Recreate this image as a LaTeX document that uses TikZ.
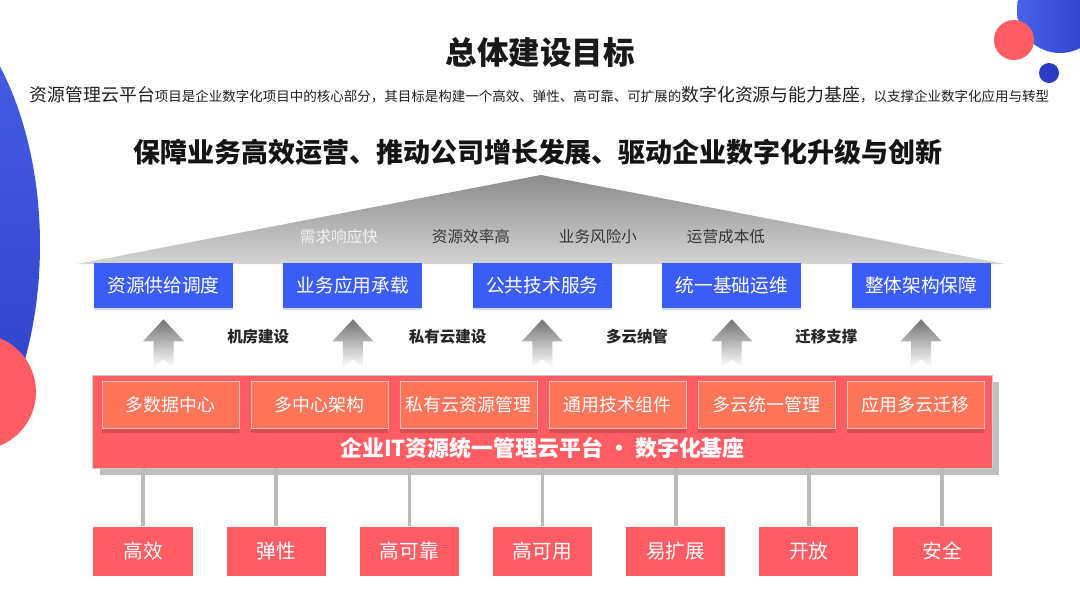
\documentclass[tikz,border=0pt]{standalone}
\usepackage{fontspec}
\setmainfont{Noto Sans CJK SC}
\usetikzlibrary{positioning,calc,shadows}

\definecolor{goalblue}{RGB}{58,94,245}
\definecolor{basered}{RGB}{255,92,100}
\definecolor{modorange}{RGB}{255,117,90}
\definecolor{decoblue}{RGB}{72,98,232}
\definecolor{decodeep}{RGB}{42,60,196}
\newcommand{\setfs}[1]{\fontsize{#1}{#1}\selectfont}

\begin{document}
\begin{tikzpicture}[x=0.025cm, y=-0.025cm,
  goalbox/.style={fill=goalblue, text=white, minimum width=3.475cm, minimum height=1.125cm,
    inner sep=0pt, font=\setfs{13.3},
    drop shadow={shadow xshift=0pt, shadow yshift=-1.5pt, fill=goalblue!22, opacity=1}},
  modbox/.style={fill=modorange, draw=modorange!45!white, line width=0.6pt, text=white,
    minimum width=3.425cm, minimum height=1.175cm, inner sep=0pt, font=\setfs{12.7},
    drop shadow={shadow xshift=0pt, shadow yshift=-3.5pt, fill=black, opacity=0.16}},
  qualbox/.style={fill=basered, text=white, minimum width=2.475cm, minimum height=1.225cm,
    inner sep=0pt, font=\setfs{14}},
  arrowlbl/.style={font=\bfseries\setfs{11}, text=black!85},
  rooflbl/.style={font=\setfs{11.1}, text=black!78},
  link/.style={draw=black!27, line width=2.6pt},
  uparrow/.style={top color=black!55, bottom color=white, draw=none}]
\path[use as bounding box] (0,0) rectangle (1080,608);
\begin{scope}
\clip (0,0) rectangle (1080,608);
\shade[top color=decoblue, bottom color=decodeep] (-120,245) ellipse [x radius=160, y radius=270];
\fill[basered] (-22,392) circle [radius=58];
\shade[left color=decoblue, right color=decodeep] (1060,10) circle [radius=43];
\fill[basered] (1014,40) circle [radius=20];
\fill[decodeep] (1049,73) circle [radius=10];
\end{scope}

\node[font=\bfseries\setfs{22.4}, text=black!90] (title) at (540,52) {总体建设目标};
\node[text=black!88, inner sep=0pt] (intro) at (539.5,95)
  {{\setfs{12.7}资源管理云平台}{\setfs{9.6}项目是企业数字化项目中的核心部分，其目标是构建一个高效、弹性、高可靠、可扩展的}{\setfs{12.7}数字化资源与能力基座}{\setfs{9.6}，以支撑企业数字化应用与转型}};
\node[font=\bfseries\setfs{19.2}, text=black!92] (slogan) at (538,152)
  {保障业务高效运营、推动公司增长发展、驱动企业数字化升级与创新};

\shade[top color=black!45, bottom color=black!17] (77,264) -- (541,175) -- (1005,264) -- cycle;
\node[rooflbl, text=black!5] (t1) at (339,237) {需求响应快};
\node[rooflbl] (t2) at (471,237) {资源效率高};
\node[rooflbl] (t3) at (598,237) {业务风险小};
\node[rooflbl] (t4) at (726,237) {运营成本低};

\foreach \t [count=\i] in {资源供给调度,业务应用承载,公共技术服务,统一基础运维,整体架构保障}
  \node[goalbox] (g\i) at (-25.9+189.4*\i,285.5) {\t};

\foreach \i in {1,...,5}
  \shade[uparrow] ($(g\i.south)+(0,11)$) -- ++(20.5,22) -- ++(-10.5,0) -- ++(0,26)
    -- ++(-10,-8) -- ++(-10,8) -- ++(0,-26) -- ++(-10.5,0) -- cycle;
\node[arrowlbl] (a1) at ($(g1.south)!0.5!(g2.south)+(0,28)$) {机房建设};
\node[arrowlbl] (a2) at ($(g2.south)!0.5!(g3.south)+(0,28)$) {私有云建设};
\node[arrowlbl] (a3) at ($(g3.south)!0.5!(g4.south)+(0,28)$) {多云纳管};
\node[arrowlbl] (a4) at ($(g4.south)!0.5!(g5.south)+(0,28)$) {迁移支撑};

\node[fill=basered, draw=black!20, line width=0.6pt, minimum width=22.475cm, minimum height=2.325cm,
  inner sep=0pt, drop shadow={shadow xshift=5pt, shadow yshift=-5pt, fill=black!25, opacity=1}]
  (plat) at (542.5,421.5) {};
\foreach \t [count=\i] in {多数据中心,多中心架构,私有云资源管理,通用技术组件,多云统一管理,应用多云迁移}
  \node[modbox] (m\i) at (21.5+149*\i,404.5) {\t};
\node[font=\bfseries\setfs{15.6}, text=white] (plattxt) at ($(plat.south)+(0,-20)$)
  {企业IT资源统一管理云平台 · 数字化基座};

\foreach \t [count=\i] in {高效,弹性,高可靠,高可用,易扩展,开放,安全} {
  \node[qualbox] (q\i) at (9.83+133.17*\i,551) {\t};
  \draw[link] (q\i.north) -- (q\i.north |- plat.south);
}
\end{tikzpicture}
\end{document}
